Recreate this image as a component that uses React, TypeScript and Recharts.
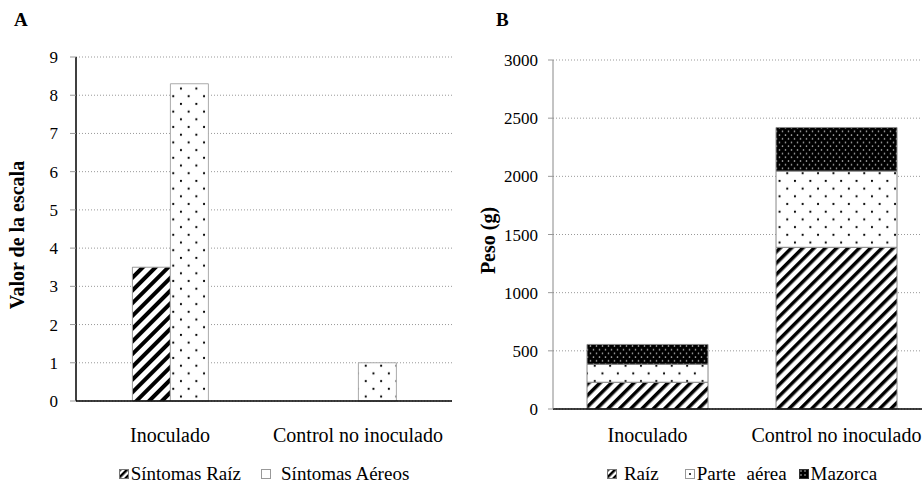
import { BarChart, Bar, XAxis, YAxis, CartesianGrid, Legend } from 'recharts'

const FONT = '"Liberation Serif", "Times New Roman", serif'

// Panel A: symptom scale
const categories = ['Inoculado', 'Control no inoculado']
const sintomasRaiz = [3.5, 0]
const sintomasAereos = [8.3, 1.0]
const ticksA = [0, 1, 2, 3, 4, 5, 6, 7, 8, 9]

// Panel B: weight (g)
const pesoRaiz = [230, 1390]
const pesoParteAerea = [155, 655]
const pesoMazorca = [170, 375]
const ticksB = [0, 500, 1000, 1500, 2000, 2500, 3000]

const dataA = categories.map((cat, i) => ({ cat, raiz: sintomasRaiz[i], aereos: sintomasAereos[i] }))
const dataB = categories.map((cat, i) => ({
  cat,
  raiz: pesoRaiz[i],
  aerea: pesoParteAerea[i],
  mazorca: pesoMazorca[i]
}))

const xTick = { fill: '#000', fontSize: 20, fontFamily: FONT }
const yTick = { fill: '#000', fontSize: 17, fontFamily: FONT }

const yLabel = (text: string, dx: number, dy: number) => (props: any) => {
  const vb = props.viewBox || {}
  const x = (vb.x || 0) + dx
  const y = (vb.y || 0) + (vb.height || 0) / 2 + dy
  return (
    <text
      x={x}
      y={y}
      transform={`rotate(-90 ${x} ${y})`}
      textAnchor="middle"
      dominantBaseline="central"
      style={{ fontFamily: FONT, fontSize: 20, fontWeight: 'bold', fill: '#000' }}
    >
      {text}
    </text>
  )
}

const Swatch = ({ fill, stroke = '#777' }: { fill: string; stroke?: string }) => (
  <svg width={10} height={10} style={{ display: 'inline-block', verticalAlign: 'middle' }}>
    <rect x={0.5} y={0.5} width={9} height={9} fill={fill} stroke={stroke} />
  </svg>
)

const legendRow = { display: 'flex', justifyContent: 'center', alignItems: 'center', height: 22, fontFamily: FONT, fontSize: 19, color: '#000', whiteSpace: 'nowrap' } as const

const LegendA = () => (
  <div style={legendRow}>
    <span style={{ display: 'flex', alignItems: 'center', gap: 2, marginRight: 20 }}>
      <Swatch fill="url(#legStripe)" />
      Síntomas Raíz
    </span>
    <span style={{ display: 'flex', alignItems: 'center', gap: 10 }}>
      <Swatch fill="#fff" stroke="#999" />
      Síntomas Aéreos
    </span>
  </div>
)

const LegendB = () => (
  <div style={legendRow}>
    <span style={{ display: 'flex', alignItems: 'center', gap: 7, marginRight: 26 }}>
      <Swatch fill="url(#legStripe)" />
      Raíz
    </span>
    <span style={{ display: 'flex', alignItems: 'center', gap: 2, marginRight: 12 }}>
      <Swatch fill="url(#legDot)" stroke="#999" />
      <span style={{ wordSpacing: 6 }}>Parte aérea</span>
    </span>
    <span style={{ display: 'flex', alignItems: 'center', gap: 2 }}>
      <Swatch fill="url(#legMaz)" stroke="#333" />
      Mazorca
    </span>
  </div>
)

export default function App() {
  return (
    <div style={{ position: 'absolute', left: 0, top: 0, width: 922, height: 485, overflow: 'hidden', background: '#fff' }}>
      <svg width={0} height={0} style={{ position: 'absolute' }}>
        <defs>
          <pattern id="stripeA" patternUnits="userSpaceOnUse" width={9} height={9} patternTransform="rotate(45)">
            <rect width={9} height={9} fill="#fff" />
            <rect x={0} y={0} width={4} height={9} fill="#000" />
          </pattern>
          <pattern id="stripeB" patternUnits="userSpaceOnUse" width={8} height={8} patternTransform="rotate(45)">
            <rect width={8} height={8} fill="#fff" />
            <rect x={0} y={0} width={3.5} height={8} fill="#000" />
          </pattern>
          <pattern id="dots" patternUnits="userSpaceOnUse" width={15.4} height={15.4}>
            <rect width={15.4} height={15.4} fill="#fff" />
            <circle cx={3.85} cy={3.85} r={1.1} fill="#000" />
            <circle cx={11.55} cy={11.55} r={1.1} fill="#000" />
          </pattern>
          <pattern id="mazorca" patternUnits="userSpaceOnUse" width={6} height={7.4}>
            <rect width={6} height={7.4} fill="#000" />
            <circle cx={1.5} cy={1.85} r={0.8} fill="#ccc" />
            <circle cx={4.5} cy={5.55} r={0.8} fill="#ccc" />
          </pattern>
          <pattern id="legStripe" patternUnits="userSpaceOnUse" width={5} height={5} patternTransform="rotate(45)">
            <rect width={5} height={5} fill="#fff" />
            <rect x={0} y={0} width={2.5} height={5} fill="#000" />
          </pattern>
          <pattern id="legDot" patternUnits="userSpaceOnUse" width={10} height={10}>
            <rect width={10} height={10} fill="#fff" />
            <circle cx={5} cy={5} r={1} fill="#000" />
          </pattern>
          <pattern id="legMaz" patternUnits="userSpaceOnUse" width={4} height={4}>
            <rect width={4} height={4} fill="#000" />
            <circle cx={2} cy={2} r={0.8} fill="#ccc" />
          </pattern>
        </defs>
      </svg>

      <div style={{ position: 'absolute', left: 14, top: 9, fontFamily: FONT, fontWeight: 'bold', fontSize: 19 }}>A</div>
      <div style={{ position: 'absolute', left: 496, top: 9, fontFamily: FONT, fontWeight: 'bold', fontSize: 19 }}>B</div>

      <div style={{ position: 'absolute', left: 0, top: 0 }}>
        <BarChart
          width={460}
          height={485}
          data={dataA}
          margin={{ top: 57, right: 8, left: 0, bottom: 0 }}
          barCategoryGap="30%"
          barGap={0}
        >
          <CartesianGrid vertical={false} stroke="#999" strokeDasharray="1 2" />
          <XAxis
            dataKey="cat"
            interval={0}
            tickLine={false}
            tickSize={0}
            tickMargin={27}
            height={62}
            axisLine={{ stroke: '#000', strokeWidth: 1.5 }}
            tick={xTick}
          />
          <YAxis
            domain={[0, 9]}
            ticks={ticksA}
            interval={0}
            width={76}
            tickSize={6}
            tickMargin={12}
            tickLine={{ stroke: '#999' }}
            axisLine={{ stroke: '#000', strokeWidth: 1.5 }}
            tick={yTick}
            label={{ content: yLabel('Valor de la escala', 17, 6) }}
          />
          <YAxis yAxisId="right" orientation="right" width={0} tick={false} tickLine={false} axisLine={{ stroke: '#999' }} />
          <Legend content={<LegendA />} wrapperStyle={{ left: 76, width: 376 }} />
          <Bar dataKey="raiz" name="Síntomas Raíz" fill="url(#stripeA)" stroke="#999" isAnimationActive={false} />
          <Bar dataKey="aereos" name="Síntomas Aéreos" fill="url(#dots)" stroke="#aaa" isAnimationActive={false} />
        </BarChart>
      </div>

      <div style={{ position: 'absolute', left: 460, top: 0 }}>
        <BarChart
          width={480}
          height={485}
          data={dataB}
          margin={{ top: 60, right: 9, left: 0, bottom: 0 }}
          barCategoryGap="18%"
        >
          <CartesianGrid vertical={false} stroke="#999" strokeDasharray="1 2" />
          <XAxis
            dataKey="cat"
            interval={0}
            tickLine={false}
            tickSize={0}
            tickMargin={19}
            height={54}
            axisLine={{ stroke: '#000', strokeWidth: 1.5 }}
            tick={xTick}
          />
          <YAxis
            domain={[0, 3000]}
            ticks={ticksB}
            interval={0}
            width={93}
            tickSize={5}
            tickMargin={10}
            tickLine={{ stroke: '#999' }}
            axisLine={{ stroke: '#888' }}
            tick={yTick}
            label={{ content: yLabel('Peso (g)', 28, 6) }}
          />
          <Legend content={<LegendB />} wrapperStyle={{ left: 93, width: 378 }} />
          <Bar dataKey="raiz" name="Raíz" stackId="p" fill="url(#stripeB)" stroke="#888" isAnimationActive={false} />
          <Bar dataKey="aerea" name="Parte aérea" stackId="p" fill="url(#dots)" stroke="#888" isAnimationActive={false} />
          <Bar dataKey="mazorca" name="Mazorca" stackId="p" fill="url(#mazorca)" stroke="#888" isAnimationActive={false} />
        </BarChart>
      </div>
    </div>
  )
}
